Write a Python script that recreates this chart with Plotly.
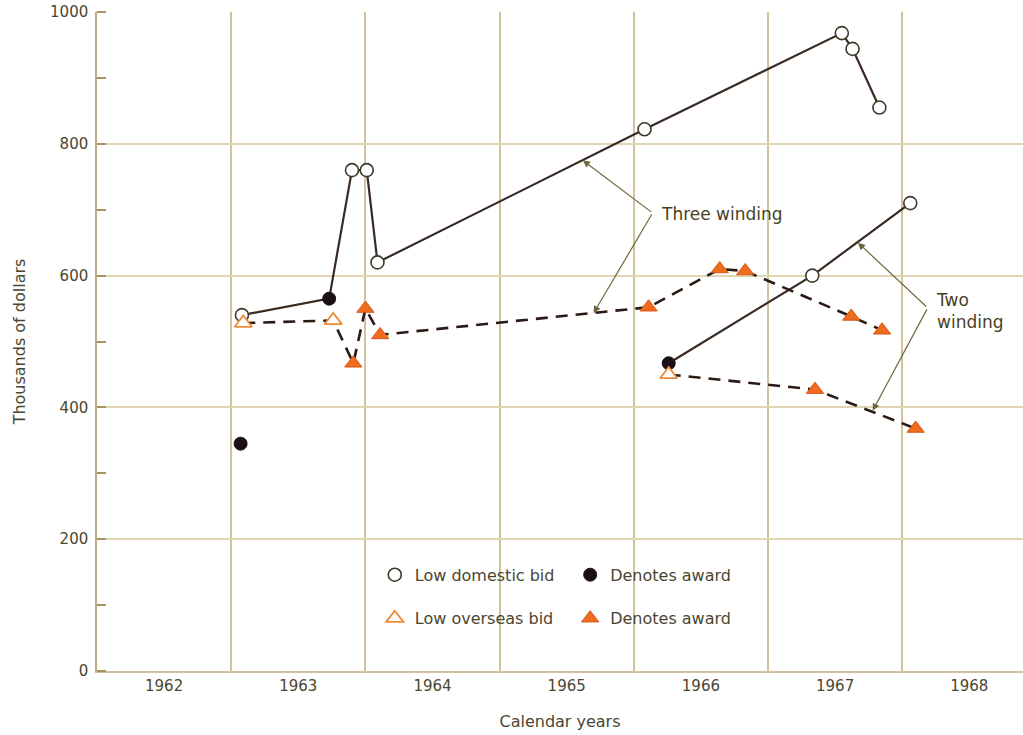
import plotly.graph_objects as go

# ---- data (x = fractional calendar year, y = thousands of dollars) ----
three_dom_x = [1963.08, 1963.73, 1963.90, 1964.01, 1964.09, 1966.08, 1967.55, 1967.63, 1967.83]
three_dom_y = [540, 565, 760, 760, 620, 822, 968, 944, 855]
three_dom_award = [False, True, False, False, False, False, False, False, False]

three_ovs_x = [1963.09, 1963.76, 1963.91, 1964.00, 1964.11, 1966.11, 1966.64, 1966.83, 1967.62, 1967.85]
three_ovs_y = [528, 532, 467, 550, 510, 552, 610, 607, 538, 517]
three_ovs_award = [False, False, True, True, True, True, True, True, True, True]

two_dom_x = [1966.26, 1967.33, 1968.06]
two_dom_y = [467, 600, 710]
two_dom_award = [True, False, False]

two_ovs_x = [1966.26, 1967.35, 1968.10]
two_ovs_y = [450, 427, 368]
two_ovs_award = [False, True, True]

lone_award_x = [1963.07]
lone_award_y = [345]

year_labels = ["1962", "1963", "1964", "1965", "1966", "1967", "1968"]
y_ticks = [0, 200, 400, 600, 800, 1000]

# ---- styling ----
FONT = "DejaVu Sans"
TEXT = "#4a4630"
HGRID = "#e0d6b4"
VGRID = "#d2c49a"
DOM_LINE = "#3a2a22"
OVS_LINE = "#2b1a14"
ORANGE = "#ef6c1d"
ORANGE_OPEN = "#f08a30"
BLACK_DOT = "#1c1018"

fig = go.Figure()

# connecting lines
for xs, ys in [(three_dom_x, three_dom_y), (two_dom_x, two_dom_y)]:
    fig.add_trace(go.Scatter(x=xs, y=ys, mode="lines", showlegend=False,
                             line=dict(color=DOM_LINE, width=2.2), hoverinfo="skip"))
for xs, ys in [(three_ovs_x, three_ovs_y), (two_ovs_x, two_ovs_y)]:
    fig.add_trace(go.Scatter(x=xs, y=ys, mode="lines", showlegend=False,
                             line=dict(color=OVS_LINE, width=2.6, dash="12px,8px"),
                             hoverinfo="skip"))


def split(xs, ys, flags, want):
    px = [x for x, f in zip(xs, flags) if f == want]
    py = [y for y, f in zip(ys, flags) if f == want]
    return px, py


dom_open = [split(three_dom_x, three_dom_y, three_dom_award, False),
            split(two_dom_x, two_dom_y, two_dom_award, False)]
dom_fill = [split(three_dom_x, three_dom_y, three_dom_award, True),
            split(two_dom_x, two_dom_y, two_dom_award, True)]
ovs_open = [split(three_ovs_x, three_ovs_y, three_ovs_award, False),
            split(two_ovs_x, two_ovs_y, two_ovs_award, False)]
ovs_fill = [split(three_ovs_x, three_ovs_y, three_ovs_award, True),
            split(two_ovs_x, two_ovs_y, two_ovs_award, True)]


def cat(parts):
    xs, ys = [], []
    for a, b in parts:
        xs += a
        ys += b
    return xs, ys


x, y = cat(dom_open)
fig.add_trace(go.Scatter(x=x, y=y, mode="markers", name="Low domestic bid", legend="legend",
                         marker=dict(symbol="circle", size=13, color="white",
                                     line=dict(color="#3d3a28", width=1.6))))
x, y = cat(dom_fill)
fig.add_trace(go.Scatter(x=x + lone_award_x, y=y + lone_award_y, mode="markers",
                         name="Denotes award", legend="legend2",
                         marker=dict(symbol="circle", size=13, color=BLACK_DOT,
                                     line=dict(color=BLACK_DOT, width=1))))
x, y = cat(ovs_open)
fig.add_trace(go.Scatter(x=x, y=y, mode="markers", name="Low overseas bid", legend="legend3",
                         marker=dict(symbol="triangle-up", size=15, color="white",
                                     line=dict(color=ORANGE_OPEN, width=1.8))))
x, y = cat(ovs_fill)
fig.add_trace(go.Scatter(x=x, y=y, mode="markers", name="Denotes award", legend="legend4",
                         marker=dict(symbol="triangle-up", size=15, color=ORANGE,
                                     line=dict(color="#d8561a", width=1))))

# bracket callouts
CALLOUT = "#6b6a3c"
brackets = [
    # (apex x, apex y, target x, target y)
    (1966.14, 695, 1965.62, 775),
    (1966.14, 695, 1965.70, 543),
    (1968.19, 551, 1967.67, 650),
    (1968.19, 551, 1967.78, 395),
]
for axv, ayv, tx, ty in brackets:
    fig.add_annotation(x=tx, y=ty, ax=axv, ay=ayv, xref="x", yref="y", axref="x", ayref="y",
                       text="", showarrow=True, arrowhead=2, arrowsize=1.2, arrowwidth=1.2,
                       arrowcolor=CALLOUT, standoff=0)

fig.add_annotation(x=1966.19, y=693, xref="x", yref="y", text="Three winding",
                   showarrow=False, xanchor="left", yanchor="middle",
                   font=dict(family=FONT, size=17, color="#4a3f25"))
fig.add_annotation(x=1968.24, y=546, xref="x", yref="y", text="Two<br>winding",
                   showarrow=False, xanchor="left", yanchor="middle", align="left",
                   font=dict(family=FONT, size=17, color="#4a3f25"))

legend_common = dict(font=dict(family=FONT, size=16, color=TEXT), bgcolor="rgba(0,0,0,0)",
                     xanchor="left", yanchor="middle", itemclick=False, itemdoubleclick=False)

fig.update_layout(
    width=1023, height=735,
    margin=dict(l=97, r=0, t=12, b=64),
    paper_bgcolor="white", plot_bgcolor="white",
    font=dict(family=FONT, color=TEXT),
    legend=dict(x=0.300, y=0.146, **legend_common),
    legend2=dict(x=0.511, y=0.146, **legend_common),
    legend3=dict(x=0.300, y=0.080, **legend_common),
    legend4=dict(x=0.511, y=0.080, **legend_common),
    xaxis=dict(
        range=[1962, 1968.90],
        tickvals=[1962.5 + i for i in range(len(year_labels))],
        ticktext=year_labels,
        showgrid=False, zeroline=False, ticks="",
        showline=True, linecolor=VGRID, linewidth=1.5,
        tickfont=dict(family=FONT, size=15, color=TEXT),
        minor=dict(tick0=1962, dtick=1, showgrid=True, gridcolor=VGRID, gridwidth=1.5, ticks=""),
        title=dict(text="Calendar years", font=dict(family=FONT, size=16, color=TEXT), standoff=22),
    ),
    yaxis=dict(
        range=[0, 1000],
        tickvals=y_ticks,
        showgrid=True, gridcolor=HGRID, gridwidth=1.5, zeroline=False,
        showline=True, linecolor="#b9ad85", linewidth=1.5,
        ticks="", ticklabelstandoff=4,
        tickfont=dict(family=FONT, size=15, color=TEXT),
        minor=dict(dtick=100, tick0=0, ticks="inside", ticklen=9, tickcolor="#a8945f",
                   tickwidth=1.5, showgrid=False),
        title=dict(text="Thousands of dollars", font=dict(family=FONT, size=16, color=TEXT),
                   standoff=20),
    ),
)

fig.write_html("out.html")
